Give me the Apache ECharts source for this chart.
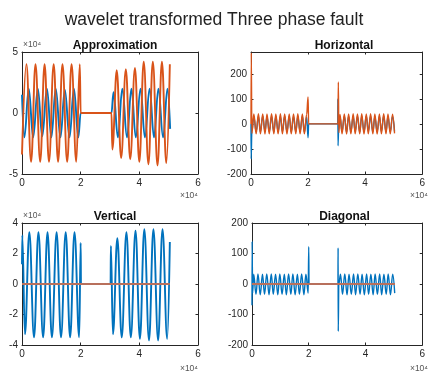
<!DOCTYPE html>
<html>
<head>
<meta charset="utf-8">
<script src="https://cdn.jsdelivr.net/npm/echarts@6/dist/echarts.min.js"></script>
<style>
  html, body { margin: 0; padding: 0; background: #fff; }
  #chart { width: 428px; height: 378px; }
</style>
</head>
<body>
<div id="chart"></div>
<script>
// Sample positions are in units of 10^4 samples; Approximation and Vertical values in units of 10^4.

// Approximation coefficients
const approxBlueT = [0.00, 0.08, 0.23, 0.38, 0.54, 0.69, 0.85, 1.00, 1.15, 1.31, 1.46, 1.62, 1.77, 1.92, 2.00,
                     3.05, 3.12, 3.27, 3.42, 3.58, 3.73, 3.88, 4.04, 4.19, 4.35, 4.50, 4.65, 4.81, 4.96, 5.05];
const approxBlueV = [1.5, -2.0, 2.0, -2.0, 2.0, -1.9, 2.0, -2.0, 2.0, -2.0, 1.9, -2.0, 2.0, -2.0, 0,
                     0, 1.7, -2.0, 2.0, -2.0, 2.0, -2.0, 2.0, -2.0, 2.0, -2.0, 2.0, -2.0, 2.0, -1.3];
const approxOrangeT = [0.00, 0.15, 0.31, 0.46, 0.62, 0.77, 0.92, 1.08, 1.23, 1.38, 1.54, 1.69, 1.85, 1.97, 2.00,
                       3.05, 3.08, 3.23, 3.38, 3.54, 3.69, 3.85, 4.00, 4.15, 4.31, 4.46, 4.62, 4.77, 4.92, 5.04];
const approxOrangeV = [-3.4, 4.0, -4.0, 4.0, -4.0, 4.0, -4.0, 4.0, -4.0, 4.0, -4.0, 4.0, -4.0, 4.0, 0,
                       0, -3.0, 3.5, -3.7, 3.6, -3.8, 3.7, -4.0, 4.2, -4.2, 4.2, -4.3, 4.2, -4.1, 4.0];

// Horizontal detail coefficients
const horizBlueT = [0.00, 0.005,
  0.03, 0.10, 0.18, 0.26, 0.33, 0.41, 0.49, 0.56, 0.64, 0.72, 0.80, 0.87, 0.95,
  1.03, 1.10, 1.18, 1.26, 1.34, 1.41, 1.49, 1.57, 1.64, 1.72, 1.80, 1.87, 1.95,
  2.00, 2.02,
  3.04, 3.045, 3.05, 3.08,
  3.12, 3.19, 3.27, 3.35, 3.42, 3.50, 3.58, 3.65, 3.73, 3.81, 3.88, 3.96, 4.04,
  4.11, 4.19, 4.27, 4.34, 4.42, 4.50, 4.57, 4.65, 4.73, 4.80, 4.88, 4.96, 5.03];
const horizBlueV = [0, -140,
  -30, 29, -31, 30, -32, 31, -30, 29, -31, 30, -32, 30, -31,
  29, -30, 30, -31, 30, -32, 29, -31, 30, -30, 30, -32, 28,
  -55, 0,
  0, 100, -87, 25,
  29, -31, 30, -32, 30, -31, 31, -30, 30, -32, 30, -31, 31,
  -30, 30, -32, 29, -31, 30, -30, 31, -32, 30, -31, 30, -30];
const horizOrangeT = [0.00, 0.01,
  0.03, 0.10, 0.18, 0.26, 0.33, 0.41, 0.49, 0.56, 0.64, 0.72, 0.80, 0.87, 0.95,
  1.03, 1.10, 1.18, 1.26, 1.34, 1.41, 1.49, 1.57, 1.64, 1.72, 1.80, 1.87, 1.95,
  2.00, 2.02,
  3.05, 3.06, 3.08,
  3.12, 3.19, 3.27, 3.35, 3.42, 3.50, 3.58, 3.65, 3.73, 3.81, 3.88, 3.96, 4.04,
  4.11, 4.19, 4.27, 4.34, 4.42, 4.50, 4.57, 4.65, 4.73, 4.80, 4.88, 4.96, 5.03];
const horizOrangeV = [0, 283,
  -38, 40, -40, 41, -40, 40, -41, 40, -40, 41, -40, 40, -40,
  41, -40, 40, -41, 40, -40, 40, -40, 41, -40, 40, -40, 38,
  108, 0,
  0, 167, -35,
  38, -40, 40, -41, 40, -40, 41, -40, 40, -40, 41, -41, 40,
  -40, 41, -40, 40, -41, 40, -40, 41, -40, 40, -40, 39, -38];

// Vertical detail coefficients
const vertBlueT = [0.00, 0.01, 0.10, 0.25, 0.41, 0.56, 0.72, 0.87, 1.02, 1.18, 1.33, 1.49, 1.64, 1.79, 1.95, 2.00, 2.01,
                   3.02, 3.03, 3.10, 3.25, 3.40, 3.56, 3.71, 3.87, 4.02, 4.17, 4.33, 4.48, 4.64, 4.79, 4.95, 5.04];
const vertBlueV = [1.3, 3.2, -3.3, 3.4, -3.5, 3.4, -3.5, 3.4, -3.5, 3.4, -3.5, 3.4, -3.5, 3.4, -3.5, 2.7, 0,
                   0, 2.5, -3.3, 3.0, -3.5, 3.4, -3.5, 3.5, -3.6, 3.6, -3.7, 3.6, -3.7, 3.6, -3.6, 2.75];
const vertOrangeT = [0.00, 5.04];
const vertOrangeV = [0, 0];

// Diagonal detail coefficients
const diagBlueT = [0.00, 0.005, 0.02,
  0.06, 0.14, 0.21, 0.29, 0.37, 0.44, 0.52, 0.60, 0.68, 0.75, 0.83, 0.91, 0.98,
  1.06, 1.14, 1.21, 1.29, 1.37, 1.44, 1.52, 1.60, 1.67, 1.75, 1.83, 1.90, 1.98,
  2.00, 2.01,
  3.03, 3.035, 3.04, 3.06,
  3.12, 3.19, 3.27, 3.35, 3.42, 3.50, 3.58, 3.65, 3.73, 3.81, 3.88, 3.96, 4.04,
  4.11, 4.19, 4.27, 4.34, 4.42, 4.50, 4.57, 4.65, 4.73, 4.80, 4.88, 4.96, 5.03];
const diagBlueV = [-70, 140, -30,
  32, -34, 33, -35, 32, -34, 33, -35, 33, -34, 32, -35, 33,
  -34, 32, -35, 33, -34, 33, -35, 32, -34, 33, -35, 32, -30,
  122, 0,
  0, 118, -155, 0,
  32, -34, 33, -35, 32, -34, 33, -35, 33, -34, 32, -35, 33,
  -34, 32, -35, 33, -34, 33, -35, 32, -34, 33, -35, 32, -30];
const diagOrangeT = [0.00, 5.04];
const diagOrangeV = [0, 0];

// Axis tick values
const xTickValues = [0, 2, 4, 6];
const approxYTicks = [-5, 0, 5];
const horizYTicks = [-200, -100, 0, 100, 200];
const vertYTicks = [-4, -2, 0, 2, 4];
const diagYTicks = [-200, -100, 0, 100, 200];

const panelTitles = ['Approximation', 'Horizontal', 'Vertical', 'Diagonal'];
const mainTitle = 'wavelet transformed Three phase fault';
const exponentText = '×10⁴';

const BLUE = '#0072BD';
const ORANGE = '#D95319';
const FLAT = '#B8705C';
const AXIS = '#262626';
const FONT = 'Liberation Sans, Arial, sans-serif';

const zip = (t, v) => t.map((x, i) => [x, v[i]]);

const panels = [
  { grid: { left: 22, top: 52, width: 176, height: 122 }, yMax: 5, yTicks: approxYTicks, width: 1.9,
    blue: zip(approxBlueT, approxBlueV), orange: zip(approxOrangeT, approxOrangeV), orangeColor: ORANGE },
  { grid: { left: 251, top: 52, width: 176, height: 122 }, yMax: 287, yTicks: horizYTicks, width: 1.4,
    blue: zip(horizBlueT, horizBlueV), orange: zip(horizOrangeT, horizOrangeV), orangeColor: ORANGE },
  { grid: { left: 22, top: 223, width: 176, height: 122 }, yMax: 4, yTicks: vertYTicks, width: 1.9,
    blue: zip(vertBlueT, vertBlueV), orange: zip(vertOrangeT, vertOrangeV), orangeColor: FLAT, flatWidth: 2.2 },
  { grid: { left: 252, top: 223, width: 175, height: 122 }, yMax: 200, yTicks: diagYTicks, width: 1.4,
    blue: zip(diagBlueT, diagBlueV), orange: zip(diagOrangeT, diagOrangeV), orangeColor: FLAT, flatWidth: 2.2 }
];

const grid = [], xAxis = [], yAxis = [], series = [], titles = [];

titles.push({ text: mainTitle, left: 'center', top: 6,
  textStyle: { fontFamily: FONT, fontSize: 17.5, fontWeight: 'normal', color: '#222' } });

const tickStyle = { show: true, inside: true, length: 2.5, lineStyle: { color: AXIS, width: 1 } };
const lineStyleAxis = { show: true, onZero: false, lineStyle: { color: AXIS, width: 1 } };
const labelStyle = { fontFamily: FONT, fontSize: 10, color: AXIS };

panels.forEach((p, i) => {
  grid.push(Object.assign({ containLabel: false }, p.grid));
  const yMin = p.yTicks[0];
  const yStep = p.yTicks[1] - p.yTicks[0];
  const xStep = xTickValues[1] - xTickValues[0];
  const xBase = { type: 'value', gridIndex: i, min: xTickValues[0], max: xTickValues[xTickValues.length - 1],
    interval: xStep, splitLine: { show: false }, axisLine: lineStyleAxis, axisTick: tickStyle };
  xAxis.push(Object.assign({}, xBase, { position: 'bottom',
    axisLabel: Object.assign({ margin: 4 }, labelStyle) }));
  xAxis.push(Object.assign({}, xBase, { position: 'top', axisLabel: { show: false } }));
  const yBase = { type: 'value', gridIndex: i, min: yMin, max: p.yMax, interval: yStep,
    splitLine: { show: false }, axisLine: lineStyleAxis, axisTick: tickStyle };
  yAxis.push(Object.assign({}, yBase, { position: 'left',
    axisLabel: Object.assign({ margin: 4,
      formatter: v => (p.yTicks.indexOf(v) >= 0 ? String(v) : '') }, labelStyle) }));
  yAxis.push(Object.assign({}, yBase, { position: 'right', axisLabel: { show: false } }));

  const common = { type: 'line', xAxisIndex: 2 * i, yAxisIndex: 2 * i, symbol: 'none',
    smooth: 0.4, smoothMonotone: 'x', silent: true, animation: false };
  series.push(Object.assign({}, common, { data: p.blue,
    lineStyle: { color: BLUE, width: p.width }, itemStyle: { color: BLUE } }));
  series.push(Object.assign({}, common, { data: p.orange,
    lineStyle: { color: p.orangeColor, width: p.flatWidth || p.width }, itemStyle: { color: p.orangeColor } }));

  const g = p.grid;
  titles.push({ text: panelTitles[i], left: g.left + g.width / 2, textAlign: 'center', top: g.top - 17,
    textStyle: { fontFamily: FONT, fontSize: 12, fontWeight: 'bold', color: '#111' } });
});

const expStyle = { fontFamily: FONT, fontSize: 8.5, fill: '#555' };
const graphic = [
  // exponent above the y axes
  { type: 'text', left: 23, top: 40, style: Object.assign({ text: exponentText }, expStyle) },
  { type: 'text', left: 23, top: 211, style: Object.assign({ text: exponentText }, expStyle) },
  // exponent below the x axes
  { type: 'text', right: 230, top: 191, style: Object.assign({ text: exponentText }, expStyle) },
  { type: 'text', right: 0, top: 191, style: Object.assign({ text: exponentText }, expStyle) },
  { type: 'text', right: 230, top: 364, style: Object.assign({ text: exponentText }, expStyle) },
  { type: 'text', right: 0, top: 364, style: Object.assign({ text: exponentText }, expStyle) }
];

const chart = echarts.init(document.getElementById('chart'), null, { renderer: 'canvas' });
chart.setOption({
  backgroundColor: '#fff',
  animation: false,
  title: titles,
  grid, xAxis, yAxis, series, graphic
});
</script>
</body>
</html>
